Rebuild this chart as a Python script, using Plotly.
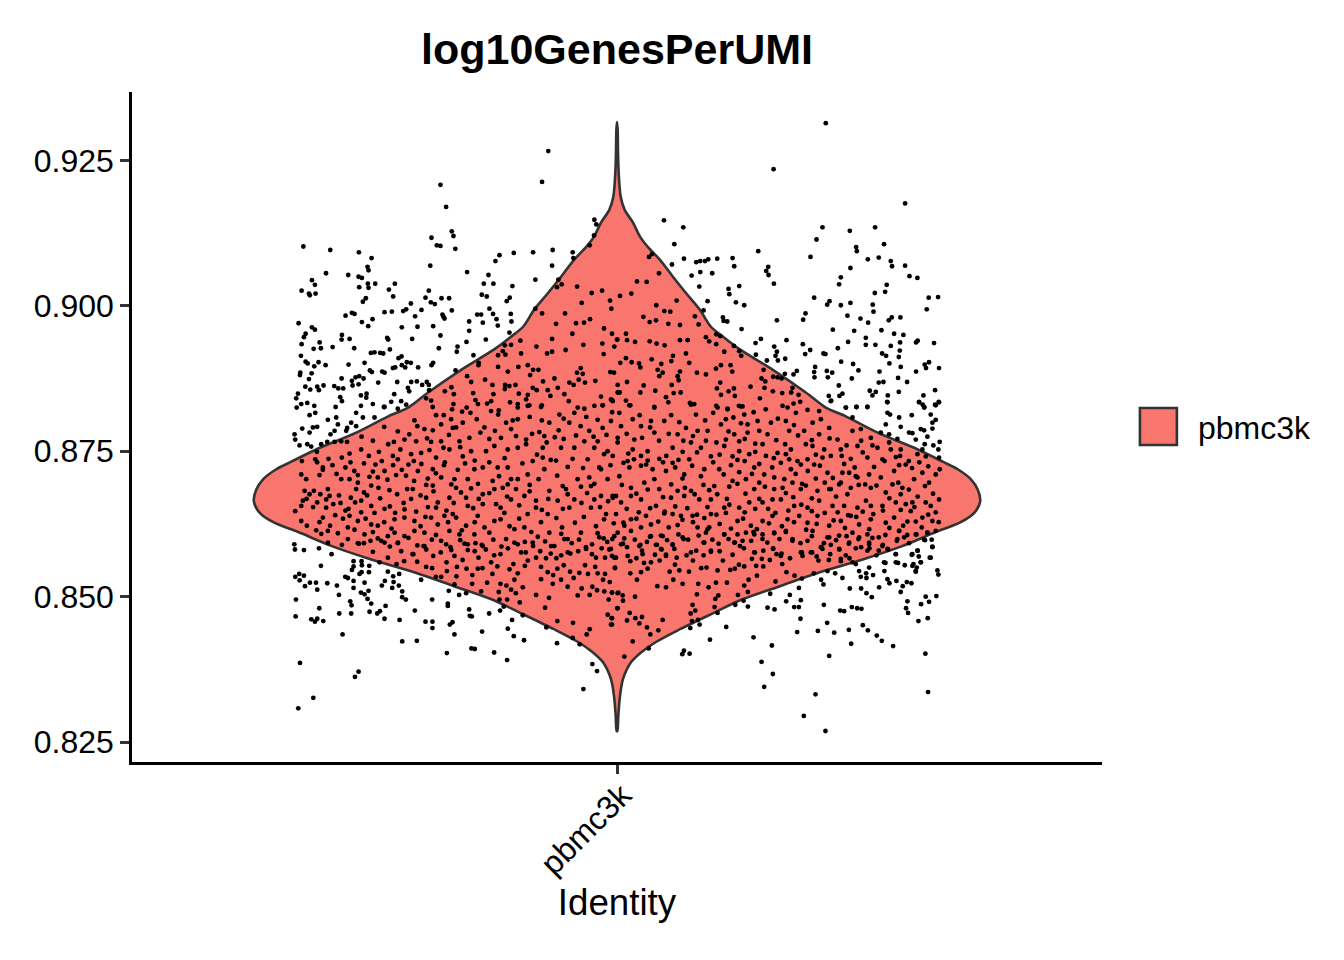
import plotly.graph_objects as go

# Violin outline: log10GenesPerUMI value and half width (density scaled to identity units)
violin_values = [.9316,.9302,.9268,.9234,.9187,.9165,.9143,.9119,.9101,.9079,.9050,.9022,.8993,.8964,.8947,.8925,.8890,.8851,.8825,.8810,.8782,.8753,.8732,.8719,.8702,.8684,.8664,.8645,.8628,.8611,.8586,.8564,.8542,.8518,.8495,.8473,.8444,.8422,.8404,.8387,.8358,.8329,.8295,.8269]
violin_widths = [0,.0008,.0012,.0019,.0046,.0095,.0198,.0284,.0383,.0532,.0692,.0853,.1026,.1162,.1310,.1520,.1928,.2336,.2583,.2831,.3226,.3721,.4030,.4215,.4376,.4462,.4493,.4425,.4252,.3943,.3511,.3041,.2509,.2015,.1545,.1211,.0779,.0482,.0297,.0173,.0074,.0037,.0016,.0004]

# Cells: (jitter offset from identity centre, value)
cells_upper_left = [(-.085,.9266),(-.0927,.9213),(-.2184,.9208),(-.2114,.9170),(-.028,.9148),(-.0256,.9140),(-.2044,.9128),(-.2023,.9120),(-.2295,.9117),(-.2229,.9104),(-.2184,.9103),(-.2,.9098),(-.388,.9102),(-.3547,.9096),(-.3193,.9092),(-.3036,.9082),(-.3086,.9067),(-.3074,.9061),(-.231,.9069),(-.36,.9056),(-.3325,.9053),(-.3197,.9050),(-.3156,.9048),(-.3774,.9044),(-.3737,.9036),(-.3902,.9026),(-.3811,.9021),(-.38,.9018),(-.3729,.9021),(-.3189,.9032),(-.3082,.9038),(-.3074,.9031),(-.2991,.9038),(-.2748,.9038),(-.2822,.9028),(-.2769,.9016),(-.3107,.9013),(-.3144,.9007),(-.2328,.9026),(-.2369,.9014),(-.2303,.9006),(-.2254,.9003),(-.2171,.9013),(-.2077,.9013),(-.255,.9004),(-.2608,.8994),(-.2645,.8991),(-.2785,.8990),(-.2876,.8989),(-.2419,.8993),(-.2497,.8982),(-.3358,.8983),(-.328,.8988),(-.3247,.8986),(-.2044,.8992),(-.2159,.8985),(-.2147,.8981),(-.2134,.8978),(-.3024,.8977),(-.3156,.8972),(-.3078,.8965),(-.3939,.8970),(-.3774,.8963),(-.3737,.8959),(-.2662,.8963),(-.2468,.8964),(-.2274,.8965),(-.3852,.8952),(-.3873,.8946),(-.3403,.8950),(-.3407,.8942),(-.3308,.8943),(-.2843,.8945),(-.2831,.8942),(-.2534,.8943),(-.2184,.8949),(-.3679,.8937),(-.3902,.8934),(-.3753,.8926),(-.3663,.8927),(-.3518,.8929),(-.3251,.8927),(-.2810,.8925),(-.2204,.8927),(-.3045,.8919),(-.3,.8920),(-.2929,.8919),(-.2892,.8918),(-.391,.8914),(-.2703,.8910),(-.2666,.8913),(-.2600,.8903),(-.2550,.8902),(-.3852,.8904),(-.3827,.8901),(-.3692,.8903),(-.3745,.8896),(-.3605,.8898),(-.3321,.8899),(-.3123,.8902),(-.2662,.8898),(-.262,.8894),(-.2773,.8893),(-.2744,.8894),(-.2460,.8894),(-.2274,.8902),(-.2295,.8898),(-.3057,.8889),(-.3032,.8886),(-.2905,.8887),(-.2876,.8885),(-.3918,.8885),(-.3922,.8881),(-.3778,.8884),(-.3189,.8879),(-.3234,.8877),(-.3135,.8875),(-.3407,.8875),(-.328,.8871),(-.3811,.8874),(-.2546,.8869),(-.2476,.8870),(-.2353,.8869),(-.2719,.8869),(-.2954,.8868),(-.2410,.8864),(-.2328,.8864),(-.3271,.8863),(-.3197,.8865),(-.3856,.8861),(-.3708,.8861),(-.3630,.8863),(-.3498,.8862),(-.3448,.8858),(-.3387,.8858),(-.3795,.8856),(-.3688,.8855),(-.2587,.8859),(-.2571,.8853),(-.2324,.8855),(-.3947,.8849),(-.3168,.8846),(-.3098,.8849),(-.2756,.8848),(-.3424,.8843),(-.3968,.8841),(-.3403,.8836),(-.3906,.8831),(-.3832,.8833),(-.3745,.8828),(-.3020,.8831),(-.2793,.8835),(-.2670,.8836),(-.3168,.8828),(-.3102,.8842),(-.3481,.8826),(-.3963,.8825),(-.2884,.8826),(-.2608,.8830),
(-.1504,.9077),(-.1454,.9087),(-.1590,.9053),(-.1648,.9038),(-.1529,.9038),(-.1673,.9019),(-.1611,.9016),(-.1294,.9034),(-.1327,.9014),(-.1364,.9008),(-.1578,.8995),(-.1533,.8986),(-.1491,.8977),(-.1475,.8966),(-.1314,.8986),(-.1306,.8973),(-.1331,.8954),(-.1829,.8973),(-.1660,.8971),(-.1730,.8985),(-.1681,.8985),(-.1854,.9058),(-.1829,.8957),(-.1862,.8938),(-.1623,.8942),(-.1973,.8930),(-.1982,.8921),(-.1776,.8915),
(-.101,.9045),(-.0796,.9096),(-.1038,.9092),(-.1277,.9091),(-.0548,.9092),(-.0803,.9069),(-.054,.9082),(-.0338,.9104),(-.0284,.9121),(-.0725,.9045),(-.0742,.9032),(-.0684,.9037),(-.0494,.9033),(-.0313,.9022),(-.0185,.9026),(-.0086,.9009),(-.0070,.8995),(-.0437,.9005),(-.101,.8995),(-.0927,.8987),(-.0643,.8987),(-.0507,.8970),(-.0408,.8971),(-.0334,.8977),(-.0754,.8969),(-.0161,.8961),(-.0062,.8952),(-.0552,.8952),(-.0803,.8943),(.0004,.8942),(-.0416,.8933),(-.0181,.8935),(-.0033,.8930),(-.0997,.8930),(-.1195,.8940),(-.0635,.8924),(-.0803,.8921),(-.0865,.8918),(-.0165,.8917),(-.1187,.8918),(-.1388,.8932),(-.1310,.8933),(-.1413,.8922),(-.1471,.8915),(-.1380,.8916),(-.1710,.8902),(-.1714,.8898),(-.0449,.8893),(-.0495,.8885),(-.0424,.8883),(-.1471,.8895),(-.1220,.8895),(-.1104,.8898),(-.1038,.8890),(-.0972,.8890),(-.1351,.8887),(-.0082,.8886),(-.0037,.8885),(-.1075,.8881),(-.0774,.8875),(-.0915,.8870),(-.0474,.8873),(-.0396,.8868),(-.0268,.8871),(-.0589,.8868),(-.0536,.8864),(-.1632,.8873),(-.1805,.8869),(-.1854,.8879),(-.1998,.8889),(-.1541,.8864),(-.1384,.8864),(-.1331,.8862),(-.1256,.8864),(-.1042,.8859),(-.0993,.8855),(-.0857,.8855),(-.0733,.8859),(-.0651,.8848),(-.2048,.8860),(-.2019,.8848),(-.2130,.8853),(-.1780,.8850),(-.1529,.8848),(-.1388,.8857),(-.1215,.8849),(-.1104,.8847),(.0008,.8851),(-.0198,.8844),(-.0824,.8845),(-.0074,.8839),(-.0597,.8836),(-.1751,.8838),(-.1557,.8836),(-.1323,.8834),(-.1124,.8839),(-.2299,.8837),(-.2361,.8841),(-.2023,.8831),(-.1228,.8831),(-.1084,.8829),(-.0931,.8829),(-.0177,.8829),(-.0486,.8825),(-.0280,.8828),(-.1607,.8832)]

cells_upper_right = [(.2583,.9314),(.1937,.9235),(.3564,.9176),(.0581,.9147),(.0820,.9135),(.2542,.9135),(.2880,.9129),(.3193,.9135),(.2468,.9114),(.0709,.9106),(.3304,.9106),(.2958,.9101),(.2967,.9094),(.1747,.9094),(.2394,.9084),(.0828,.9081),(.0981,.9075),(.1030,.9077),(.1088,.9077),(.1129,.9080),(.1240,.9081),(.1430,.9082),(.0680,.9071),(.1450,.9068),(.3103,.9080),(.3238,.9083),(.3387,.9077),(.3403,.9068),(.3564,.9069),(.1871,.9067),(.1846,.9060),(.1875,.9053),(.2888,.9065),(.1030,.9058),(.1178,.9056),(.0923,.9052),(.3618,.9051),(.3716,.9048),(.2769,.9049),(.2748,.9037),(.1941,.9038),(.1018,.9033),(.1512,.9034),(.1380,.9029),(.1389,.9020),(.3337,.9036),(.3317,.9024),(.3189,.9022),(.2439,.9014),(.3856,.9014),(.3972,.9015),(.1121,.9008),(.1471,.9006),(.1574,.9001),(.2629,.9008),(.2600,.9002),(.2769,.9001),(.2888,.9005),(.3164,.9002),(.3832,.8994),(.1071,.8992),(.2332,.8987),(.2303,.8976),(.3173,.8990),(.2851,.8983),(.3012,.8978),(.3107,.8971),(.3362,.8975),(.3399,.8980),(.3506,.8980),(.1310,.8980),(.1319,.8974),(.1364,.8973),(.1978,.8975),(.1541,.8960),(.2670,.8959),(.2934,.8957),(.3271,.8958),(.3428,.8952),(.3543,.8950),(.3078,.8945),(.1780,.8943),(.1714,.8936),(.2097,.8941),(.2859,.8938),(.3502,.8937),(.3700,.8937),(.3720,.8940),(.3922,.8936),(.2299,.8934),(.3078,.8933),(.3197,.8933),(.3387,.8931),(.1945,.8930),(.2732,.8927),(.2390,.8924),(.3498,.8923),(.1978,.8921),(.2554,.8918),(.2579,.8917),(.2328,.8917),(.3280,.8918),(.3329,.8914),(.3486,.8912),(.1718,.8916),(.1961,.8914),(.2081,.8909),(.1854,.8906),(.1990,.8906),(.2773,.8904),(.2921,.8900),(.3370,.8901),(.3807,.8899),(.3860,.8903),(.3823,.8893),(.3984,.8893),(.3510,.8895),(.2987,.8889),(.2451,.8895),(.2439,.8886),(.2596,.8888),(.2662,.8885),(.3247,.8887),(.3700,.8887),(.2225,.8888),(.2184,.8882),(.2077,.8883),(.2443,.8877),(.2608,.8877),(.2905,.8875),(.3477,.8876),(.3238,.8868),(.3296,.8869),(.3589,.8869),(.2744,.8863),(.3935,.8855),(.3127,.8854),(.3201,.8852),(.3486,.8852),(.2789,.8849),(.2752,.8845),(.3160,.8846),(.2620,.8845),(.3350,.8846),(.3791,.8846),(.2649,.8837),(.3342,.8835),(.3737,.8835),(.3980,.8835),(.3782,.8830),(.3935,.8830),(.2831,.8825),(.2962,.8826),(.3098,.8826),(.3803,.8825),
(.0433,.9089),(.0396,.9084),(.0519,.9056),(.0247,.9042),(.0367,.9041),(.0177,.9021),(.0037,.9017),(.0738,.9009),(.0486,.9001),(.0585,.8991),(.0659,.8990),(.0326,.8981),(.0404,.8972),(.0482,.8975),(.0635,.8969),(.0779,.8967),(.0964,.8982),(.1010,.8968),(.0111,.8952),(.0124,.8941),(.0000,.8942),(.0223,.8938),(.0404,.8939),(.0589,.8932),(.0490,.8935),(.0779,.8941),(.0874,.8941),(.1100,.8946),(.1141,.8939),(.1228,.8951),(.1277,.8948),(.1228,.8934),(.1327,.8921),(.1446,.8931),(.1512,.8922),(.1537,.8914),(.0853,.8918),(.0692,.8914),(.0672,.8905),(.0429,.8908),(.0111,.8910),(.0041,.8902),(.0181,.8903),(.0272,.8901),(.0289,.8894),(.0548,.8900),(.0503,.8890),(.0565,.8885),(.0523,.8879),(.0894,.8902),(.0779,.8887),(.0989,.8885),(.1100,.8882),(.1224,.8892),(.1286,.8898),(.1405,.8898),(.1426,.8887),(.0750,.8879),(.0762,.8872),(.1813,.8890),(.1932,.8878),(.1986,.8877),(.2036,.8875),(.1788,.8875),(.1834,.8870),(.0676,.8864),(.1277,.8868),(.0330,.8863),(.0124,.8869),(.0008,.8864),(.0474,.8854),(.1236,.8858),(.1380,.8853),(.1446,.8858),(.1652,.8861),(.1825,.8859),(.2171,.8859),(.0289,.8851),(.0033,.8851),(.0701,.8850),(.0787,.8851),(.1928,.8853),(.2044,.8850),(.2155,.8851),(.2246,.8847),(.1286,.8847),(.1458,.8845),(.0606,.8843),(.0635,.8834),(.0111,.8837),(.0165,.8829),(.0462,.8826),(.0902,.8833),(.0956,.8831),(.1228,.8828),(.1508,.8828),(.1553,.8827),(.1768,.8841),(.2048,.8828),(.2184,.8832),(.2266,.8835),(.1368,.8823),(-.0062,.8838)]

cells_lower_left = [(-.3992,.8590),(-.3984,.8581),(-.3873,.8580),(-.3687,.8583),(-.3531,.8573),(-.3663,.8553),(-.3259,.8561),(-.3160,.8561),(-.3156,.8554),(-.3259,.8552),(-.3279,.8546),(-.3065,.8553),(-.3069,.8542),(-.3160,.8542),(-.3185,.8539),(-.3931,.8539),(-.3873,.8536),(-.3980,.8534),(-.3926,.8528),(-.3362,.8534),(-.3329,.8532),(-.2835,.8543),(-.2695,.8539),(-.2769,.8535),(-.3799,.8524),(-.3724,.8524),(-.3584,.8523),(-.3259,.8527),(-.3123,.8524),(-.2872,.8527),(-.2764,.8525),(-.3860,.8518),(-.3465,.8519),(-.3708,.8512),(-.3259,.8515),(-.2909,.8519),(-.2699,.8519),(-.2781,.8515),(-.2423,.8529),(-.3168,.8507),(-.3123,.8504),(-.3074,.8510),(-.2657,.8509),(-.3440,.8503),(-.3972,.8495),(-.3086,.8496),(-.2657,.8499),(-.2612,.8495),(-.2287,.8495),(-.3300,.8492),(-.3284,.8485),(-.3041,.8488),(-.2863,.8484),(-.2093,.8488),(-.2093,.8484),(-.3683,.8480),(-.2501,.8476),(-.1829,.8478),(-.3061,.8474),(-.2933,.8475),(-.2966,.8471),(-.3436,.8471),(-.3288,.8471),(-.3976,.8466),(-.1821,.8467),(-.1796,.8466),(-.1582,.8471),(-.3782,.8461),(-.3708,.8462),(-.3737,.8457),(-.3634,.8458),(-.2876,.8462),(-.2690,.8460),(-.2369,.8457),(-.2283,.8457),(-.2035,.8456),(-.2068,.8452),(-.2283,.8446),(-.1669,.8440),(-.1298,.8460),(-.1351,.8445),(-.1277,.8432),(-.2011,.8435),(-.3395,.8435),(-.1150,.8425),(-.2657,.8423),(-.2476,.8424),(-.0742,.8420),(-.1801,.8411),(-.1759,.8410),(-.2105,.8403),(-.1520,.8404),(-.1360,.8391),(-.3922,.8386),(-.0305,.8384),(-.0247,.8372),(-.3197,.8371),(-.3242,.8362),(-.0416,.8341),(-.3757,.8326),(-.3943,.8308),
(-.0548,.8429),(-.0375,.8435),(-.0338,.8444),(-.0544,.8455),(-.0738,.8458),(-.0461,.8418),(-.0066,.8463),(-.0074,.8452),(-.0115,.8469),(.0004,.8480),(-.0890,.8481),(-.1446,.8476),(-.1401,.8483),(-.1166,.8468),(-.0874,.8447),(-.1454,.8495),(-.1360,.8495),(-.1203,.8490),(-.0841,.8498),(-.0486,.8502),(-.0338,.8503),(-.0103,.8495),(-.1463,.8508),(-.1681,.8509),(-.1866,.8506),(-.1953,.8503),(-.2081,.8510),(-.1792,.8522),(-.2011,.8521),(-.1607,.8524),(-.1001,.8503),(-.1252,.8506),(-.1310,.8512),(-.1368,.8519),(-.1166,.8516),(-.1442,.8522),(-.0437,.8514),(-.0305,.8517),(-.0247,.8511),(-.0157,.8509),(-.0062,.8507),(.0016,.8507),(-.0795,.8522),(-.0692,.8529),(-.0939,.8530),(-.0536,.8532),(-.0173,.8529),(-.1541,.8539),(-.1269,.8529),(-.1986,.8535),(-.2241,.8534),(-.2175,.8534),(-.2105,.8544),(-.1862,.8548),(-.1722,.8548),(-.1664,.8549),(-.2361,.8551),(-.2472,.8560),(-.2633,.8561),(-.2727,.8556),(-.2937,.8559),(-.2109,.8559),(-.2287,.8549),(-.1228,.8540),(-.0857,.8542),(-.0738,.8548),(-.0659,.8554),(-.0581,.8543),(-.0466,.8541),(-.0396,.8554),(-.0359,.8539),(-.0239,.8540),(-.0148,.8539),(-.0025,.8550),(-.1104,.8562),(-.1282,.8556),(-.1557,.8559),(-.0878,.8566),(-.1001,.8567),(-.0750,.8566),(-.0577,.8574),(-.0260,.8567),(-.0148,.8567),(-.0033,.8567),(-.1442,.8573),(-.1714,.8567),(-.1846,.8580),(-.2011,.8570),(-.2274,.8570),(-.2530,.8573),(-.2670,.8578),(-.2835,.8567),(-.3020,.8577),(-.1129,.8576),(-.1186,.8576),(-.1623,.8581),(-.0383,.8582),(-.0095,.8581),(-.1038,.8587),(-.1269,.8593),(-.0775,.8587),(-.0610,.8599),(-.0309,.8590),(-.0165,.8600),(-.1887,.8591),(-.1673,.8589),(-.2114,.8590),(-.2394,.8587),(-.2711,.8593),(-.2917,.8596),(-.3131,.8592),(-.3403,.8589),(-.3193,.8591),(-.3576,.8593)]

cells_lower_right = [(.2579,.8269),(.2311,.8295),(.2456,.8332),(.3848,.8336),(.1821,.8345),(.1928,.8367),(.1788,.8388),(.2625,.8398),(.3815,.8402),(.0808,.8401),(.0828,.8407),(.0898,.8402),(.1916,.8416),(.2897,.8419),(.3416,.8415),(.3276,.8424),(.3214,.8433),(.3103,.8442),(.3041,.8451),(.1150,.8426),(.1689,.8430),(.2229,.8439),(.2485,.8441),(.2687,.8438),(.2868,.8443),(.2600,.8455),(.1351,.8448),(.2270,.8462),(.3729,.8458),(.3844,.8463),(.2761,.8476),(.2810,.8475),(.2905,.8482),(.2971,.8480),(.3024,.8479),(.3576,.8480),(.3601,.8472),(.1862,.8481),(.1949,.8478),(.1619,.8483),(.2192,.8482),(.2250,.8482),(.1463,.8486),(.2559,.8486),(.2093,.8492),(.2274,.8494),(.2138,.8503),(.1566,.8493),(.1895,.8505),(.3593,.8492),(.3762,.8487),(.3860,.8491),(.3819,.8500),(.3951,.8501),(.3152,.8499),(.3086,.8506),(.3510,.8508),(.3535,.8518),(.3243,.8516),(.3020,.8514),(.2880,.8514),(.2250,.8515),(.3370,.8523),(.3346,.8530),(.3457,.8527),(.3585,.8525),(.3642,.8523),(.2554,.8521),(.2525,.8529),(.2789,.8532),(.3086,.8532),(.3016,.8534),(.3964,.8545),(.3976,.8538),(.3308,.8544),(.3168,.8537),(.3082,.8540),(.3119,.8550),(.2995,.8544),(.3696,.8543),(.3708,.8550),(.3560,.8554),(.3667,.8556),(.3758,.8559),(.3321,.8558),(.3477,.8558),(.3869,.8567),(.3733,.8569),(.3720,.8579),(.3646,.8572),(.3902,.8586),(.3449,.8573),(.3893,.8598),(.2699,.8540),
(.0091,.8397),(.0194,.8423),(.0392,.8411),(.0511,.8442),(.0412,.8435),(.0371,.8447),(.0276,.8454),(.0124,.8459),(.0227,.8463),(.0309,.8465),(.0565,.8460),(.0157,.8472),(-.0062,.8463),(.0008,.8480),(-.0062,.8452),(.0074,.8493),(.0223,.8500),(.0070,.8502),(.0008,.8506),(-.0062,.8507),(.0911,.8471),(.0968,.8476),(.0927,.8458),(.1001,.8460),(.1022,.8452),(.0907,.8446),(.1244,.8472),(.1207,.8482),(.1216,.8496),(.1253,.8502),(.0935,.8486),(.0989,.8504),(.0499,.8518),(.0606,.8516),(.0812,.8522),(.1005,.8522),(.1133,.8516),(.1224,.8524),(.1360,.8524),(.1496,.8503),(.1619,.8508),(.1574,.8519),(.1628,.8529),(.1961,.8526),(.1731,.8536),(.2097,.8542),(.2196,.8536),(.2287,.8531),(.2435,.8540),(.0247,.8529),(.0165,.8540),(.0297,.8542),(-.0025,.8549),(.0696,.8529),(.0651,.8543),(.0771,.8545),(.0890,.8543),(.1042,.8549),(.1108,.8550),(.1244,.8545),(.1401,.8546),(.1458,.8548),(.1574,.8552),(.1722,.8553),(.1809,.8552),(.0717,.8555),(.0379,.8548),(.0528,.8562),(.0420,.8559),(.0334,.8558),(.0939,.8562),(.1310,.8562),(.1508,.8555),(.1669,.8565),(.1792,.8565),(.1891,.8563),(.2044,.8556),(.0165,.8561),(.0738,.8567),(-.0012,.8567),(.2604,.8544),(.2769,.8561),(.2876,.8566),(.2954,.8556),(.0606,.8572),(.1071,.8571),(.1162,.8577),(.1706,.8576),(.1974,.8573),(.2036,.8574),(.2287,.8576),(.2414,.8576),(.2493,.8562),(.2637,.8573),(.2752,.8581),(.2954,.8583),(.3123,.8583),(.3238,.8579),(.3354,.8581),(.0124,.8585),(.0309,.8579),(.0552,.8581),(.0074,.8591),(.0289,.8589),(.0494,.8589),(.0688,.8589),(.1071,.8593),(.1257,.8591),(.1458,.8593),(.1932,.8583),(.2171,.8596),(.2357,.8596),(.2530,.8585),(.2645,.8589),(.2868,.8591),(.3119,.8590),(.3288,.8589),(.3461,.8596),(.3613,.8592),(.3799,.8598),(-.0058,.8599),(.0824,.8599),(.1553,.8596),(.1800,.8599),(.2987,.8599),(.3238,.8602),(.3552,.8602),(.0408,.8603),(.0544,.8605),(.1100,.8610),(.1327,.8607),(.1491,.8607),(.1689,.8611),(.1945,.8609),(.2089,.8611),(.2419,.8613),(.2604,.8602),(.2748,.8605),(.2913,.8610),(.3098,.8607),(.3490,.8613),(.3704,.8607),(.3840,.8610)]

cells_middle_left = [(-.3803,.8812),(-.3733,.8816),(-.3577,.8804),(-.3474,.8808),(-.3453,.8796),(-.3227,.8816),(-.3144,.8808),(-.3,.8808),(-.3227,.8793),(-.3288,.8799),(-.3894,.8789),(-.3762,.8791),(-.3709,.8792),(-.3803,.8782),(-.3989,.8779),(-.3981,.8770),(-.3494,.8785),(-.3544,.8779),(-.3350,.8785),(-.3338,.8790),(-.3927,.8760),(-.3832,.8762),(-.3783,.8758),(-.3659,.8762),(-.3585,.8766),(-.3494,.8766),(-.3412,.8767),(-.3713,.8749),(-.2712,.8823),(-.2876,.8826),
(-.3898,.8733),(-.3733,.8736),(-.3569,.8737),(-.3404,.8739),(-.3309,.8746),(-.3165,.8753),(-.3070,.8742),(-.2946,.8749),(-.3297,.8731),(-.2988,.8727),(-.2773,.8742),(-.2712,.8736),(-.2547,.8745),(-.2423,.8747),(-.2514,.8733),(-.2580,.8727),(-.2238,.8739),(-.2147,.8756),(-.2073,.8753),(-.1908,.8741),(-.1805,.8750),(-.1620,.8750),(-.1517,.8759),(-.1352,.8753),(-.1228,.8756),(-.1125,.8762),(-.0919,.8756),(-.0693,.8756),(-.0528,.8756),(-.0281,.8756),(-.0116,.8750),(-.1043,.8733),(-.0919,.8739),(-.0754,.8734),(-.0549,.8737),(-.0363,.8736),(-.0198,.8719),(-.0116,.8702),
(-.2712,.8784),(-.2629,.8770),(-.2485,.8767),(-.2506,.8803),(-.2382,.8788),(-.2279,.8786),(-.2176,.8796),(-.2052,.8805),(-.2032,.8790),(-.2238,.8812),(-.2143,.8812),(-.1916,.8818),(-.1813,.8816),(-.1908,.8799),(-.1735,.8805),(-.1690,.8782),(-.1826,.8773),(-.1949,.8767),(-.2176,.8767),(-.2300,.8766),(-.1558,.8819),(-.1463,.8820),(-.1228,.8825),(-.1105,.8828),(-.0940,.8826),(-.0713,.8813),(-.0528,.8816),(-.0404,.8823),(-.0178,.8829),(-.0054,.8836),(-.1372,.8799),(-.1228,.8805),(-.0961,.8783),(-.0837,.8799),(-.0722,.8786),(-.0590,.8799),(-.0507,.8777),(-.0343,.8785),(-.0178,.8790),(-.0075,.8802),(-.1435,.8773),(-.1249,.8776),(-.1125,.8770),(-.0899,.8776),(-.0404,.8767),(-.0239,.8767),(.0008,.8773),
(-.3906,.8710),(-.3845,.8702),(-.3639,.8722),(-.3680,.8709),(-.3412,.8702),(-.3309,.8702),(-.3206,.8709),(-.3206,.8696),(-.3062,.8706),(-.2959,.8705),(-.2876,.8716),(-.2732,.8709),(-.2662,.8718),(-.2464,.8716),(-.2279,.8719),(-.2176,.8705),(-.2341,.8703),(-.2011,.8702),(-.1846,.8702),(-.1764,.8719),(-.1661,.8722),(-.1476,.8722),(-.1352,.8722),(-.1538,.8699),(-.1311,.8702),(-.1228,.8702),(-.1105,.8710),(-.0899,.8719),(-.0672,.8690),(-.0487,.8702),(-.0343,.8705),(-.0219,.8722),
(-.3865,.8682),(-.3750,.8682),(-.3577,.8685),(-.3227,.8685),(-.3041,.8691),(-.2951,.8687),(-.2815,.8683),(-.2596,.8685),(-.2526,.8685),(-.2279,.8691),(-.1991,.8687),(-.1805,.8686),(-.1517,.8685),(-.1414,.8687),(-.1352,.8693),(-.1249,.8685),(-.0837,.8682),(-.0631,.8685),(-.0446,.8689),(-.0322,.8690),(-.0198,.8673),(-.0054,.8673),
(-.3803,.8676),(-.3556,.8673),(-.3886,.8665),(-.3709,.8662),(-.3598,.8667),(-.3420,.8661),(-.3293,.8670),(-.3091,.8674),(-.3165,.8665),(-.2547,.8668),(-.2361,.8670),(-.2217,.8662),(-.2073,.8670),(-.1867,.8670),(-.1661,.8676),(-.1496,.8659),(-.1311,.8667),(-.1146,.8673),(-.1002,.8665),(-.0734,.8665),(-.0528,.8667),(-.0281,.8667),
(-.3981,.8647),(-.3906,.8656),(-.3598,.8653),(-.3321,.8651),(-.3165,.8645),(-.3,.8644),(-.2876,.8651),(-.2745,.8644),(-.2629,.8650),(-.2485,.8646),(-.2238,.8653),(-.2032,.8642),(-.1846,.8656),(-.1661,.8659),(-.1393,.8644),(-.1105,.8642),(-.1002,.8653),(-.0857,.8642),(-.0590,.8653),(-.0322,.8653),(-.0136,.8642),
(-.3639,.8636),(-.3486,.8640),(-.3309,.8639),(-.3206,.8630),(-.2959,.8622),(-.2752,.8633),(-.2506,.8630),(-.2300,.8636),(-.2135,.8639),(-.1867,.8622),(-.1723,.8639),(-.1517,.8630),(-.1269,.8616),
(-.3906,.8630),(-.3837,.8622),(-.3721,.8614),(-.3659,.8608),(-.3577,.8613),(-.3453,.8609),(-.3247,.8615),(-.3124,.8607),(-.3041,.8624),(-.2959,.8600),(-.2835,.8604),(-.2752,.8610),(-.2629,.8604),(-.2506,.8613),(-.2382,.8610),(-.2217,.8624),(-.2073,.8613),(-.1949,.8607),(-.1764,.8607),(-.1579,.8610),(-.1372,.8599),(-.1146,.8619),(-.1043,.8593),(-.0837,.8610),(-.0652,.8599),(-.0446,.8610),(-.0219,.8602),(-.0034,.8604),
(-.3330,.8599),(-.3206,.8592),(-.2876,.8593),(-.2712,.8592),(-.2382,.8587),(-.2176,.8596),(-.1846,.8590),(-.1661,.8587),(-.1228,.8590),(-.0384,.8585),(-.0075,.8582),(-.0816,.8587),(-.0610,.8576)]

cells_middle_right = [(.2645,.8836),(.2831,.8825),(.2962,.8826),(.3098,.8826),(.3346,.8834),(.3737,.8834),(.3799,.8826),(.3943,.8829),(.3984,.8834),(.3378,.8813),(.3346,.8816),(.3490,.8808),(.3646,.8812),(.3881,.8813),(.2913,.8808),(.3943,.8804),(.3902,.8799),(.3325,.8796),(.3510,.8792),(.3758,.8788),(.3799,.8786),(.3902,.8789),(.3613,.8782),(.3654,.8781),(.3263,.8782),(.3366,.8779),(.3840,.8775),(.3469,.8771),(.3696,.8770),(.3992,.8766),(.3914,.8760),(.3976,.8753),(.3778,.8753),(.3807,.8762),(.3717,.8745),(.3820,.8741),
(.3984,.8739),(.3510,.8753),(.3366,.8765),(.3387,.8753),(.3222,.8756),(.3098,.8739),(.3284,.8736),(.3502,.8742),(.3572,.8727),(.3992,.8719),(.3943,.8710),(.3778,.8713),(.3860,.8696),(.3675,.8702),(.3531,.8687),(.3428,.8716),(.3408,.8693),(.3263,.8705),(.3119,.8710),(.2975,.8705),(.2872,.8713),(.2769,.8696),(.2625,.8685),(.2892,.8687),(.3140,.8687),(.3325,.8679),(.3510,.8676),(.3572,.8659),(.3654,.8662),(.3819,.8662),(.3984,.8667),(.3881,.8656),(.3943,.8645),(.3778,.8636),(.3634,.8647),(.3449,.8662),(.3284,.8656),(.3140,.8656),(.2975,.8653),(.2810,.8656),(.2666,.8656),(.2501,.8665),(.2357,.8653),(.2192,.8656),(.2027,.8667),(.1924,.8667),(.1801,.8662),(.1636,.8662),(.1512,.8653),(.1327,.8653),(.1162,.8667),(.1018,.8667),(.0832,.8673),(.0668,.8670),(.0482,.8656),(.0297,.8667),(.0173,.8673),(.0050,.8662),(-.0053,.8670),
(.3902,.8630),(.3696,.8629),(.3593,.8629),(.3428,.8636),(.3325,.8627),(.3140,.8633),(.2995,.8624),(.2892,.8639),(.2769,.8630),(.2625,.8622),(.2480,.8639),(.2357,.8627),(.2254,.8639),(.2110,.8633),(.1924,.8639),(.1801,.8630),(.1656,.8622),(.1491,.8630),(.1347,.8644),(.1162,.8642),(.0935,.8639),(.0791,.8639),(.0688,.8642),(.0585,.8643),(.0359,.8639),(.0173,.8633),(-.0012,.8642),(.0091,.8622),(.0420,.8624),(.0297,.8619),(.0750,.8623),(.0997,.8619),(.1141,.8619),
(.3943,.8613),(.3840,.8610),(.3696,.8607),(.3490,.8613),(.3469,.8599),(.3284,.8587),(.3119,.8593),(.2995,.8602),(.2872,.8593),(.2748,.8582),(.2625,.8602),(.2522,.8585),(.2398,.8576),(.2274,.8576),(.2171,.8599),(.2089,.8613),(.1945,.8610),(.1801,.8607),(.1698,.8607),(.1595,.8610),(.1450,.8593),(.1327,.8607),(.1121,.8616),(.1080,.8593),(.0812,.8602),(.0565,.8604),(.0420,.8604),(.0173,.8613),(.0008,.8610),(.0276,.8587),(.0482,.8589),(.0688,.8590),(.0050,.8590),(-.0062,.8570),(.0132,.8570),(.0317,.8573),(.0544,.8582),(.0606,.8570),(.0915,.8576),(.1162,.8579),(.1698,.8576),(.1932,.8582),(.2027,.8570),(.2295,.8570),(.2542,.8582),(.2769,.8565),(.2913,.8559),(.3098,.8579),(.3346,.8582),(.3449,.8573),(.3654,.8573),(.3717,.8579),(.3902,.8585),(.3881,.8567),(.3758,.8559),(.3449,.8559),(.3304,.8559),(.3654,.8553),(.3696,.8544),
(.0029,.8816),(.0153,.8829),(.0462,.8825),(.0194,.8805),(.0050,.8793),(.0297,.8793),(.0462,.8782),(.0420,.8802),(.0585,.8802),(.0771,.8800),(.0915,.8830),(.0977,.8813),(.0853,.8790),(.0997,.8785),(.0750,.8779),(.1121,.8785),(.1244,.8825),(.1368,.8822),(.1347,.8805),(.1286,.8796),(.1533,.8827),(.1574,.8813),(.1533,.8798),(.1615,.8796),(.1739,.8802),(.1862,.8779),(.1904,.8799),(.1450,.8779),(.1615,.8782),(.2110,.8825),(.2213,.8816),(.2357,.8821),(.2089,.8802),(.2130,.8785),(.2316,.8785),(.2501,.8819),(.2522,.8805),(.2625,.8790),(.2501,.8779),(.2913,.8785),(.2728,.8770),(.2336,.8762),(.3016,.8788),(.3140,.8773),(.2975,.8759),
(.0008,.8765),(.0194,.8753),(.0379,.8750),(.0214,.8770),(-.0053,.8742),(.0132,.8733),(.0297,.8742),(.0523,.8737),(.0688,.8756),(.0812,.8749),(.0894,.8736),(.0688,.8730),(.0915,.8765),(.1100,.8768),(.1162,.8741),(.1038,.8756),(.1347,.8770),(.1512,.8767),(.1327,.8759),(.1512,.8750),(.1636,.8745),(.1430,.8741),(.1801,.8762),(.1842,.8742),(.1986,.8747),(.2151,.8753),(.2089,.8745),(.2357,.8736),(.2419,.8759),(.2563,.8753),(.2645,.8742),(.2769,.8753),(.2892,.8737),(.2233,.8733),(.2542,.8739),
(.0029,.8707),(.0153,.8722),(.0297,.8725),(.0462,.8702),(.0606,.8716),(.0832,.8710),(.1038,.8707),(.1265,.8719),(.1512,.8714),(.1595,.8702),(.1430,.8699),(.1698,.8722),(.1821,.8710),(.1945,.8705),(.2027,.8730),(.2171,.8696),(.2151,.8719),(.2274,.8727),(.2439,.8727),(.2460,.8703),(.2604,.8713),(.2789,.8713),(.2954,.8707),(.2748,.8693),(.0338,.8696),(.0173,.8687),(-.0012,.8673),(.0523,.8685),(.0750,.8682),(.0915,.8682),(.1141,.8683),(.1203,.8690),(.1389,.8689),(.1698,.8685),(.1760,.8696),(.2048,.8687),(.1945,.8685),(.2336,.8691),(.2274,.8685),(.2480,.8682),(.2645,.8685)]

# Further cells from the crowded body of the violin, estimated cluster by cluster
cells_body_left = [(-.371,.8731),(-.364,.8718),(-.352,.8726),(-.347,.8711),(-.336,.8722),(-.325,.8716),(-.313,.8729),(-.302,.8715),(-.291,.8733),(-.284,.8701),(-.277,.8726),(-.261,.8708),(-.251,.8699),(-.242,.8728),(-.236,.8692),(-.224,.8712),(-.213,.8731),(-.205,.8693),(-.197,.8718),(-.188,.8729),(-.172,.8694),(-.158,.8731),(-.146,.8707),(-.139,.8738),(-.117,.8729),(-.108,.8692),(-.097,.8702),(-.082,.8735),(-.074,.8708),(-.061,.8723),(-.042,.8721),(-.028,.8694),(-.008,.8726),
(-.384,.8668),(-.376,.8654),(-.367,.8676),(-.351,.8659),(-.344,.8674),(-.336,.8648),(-.324,.8662),(-.313,.8679),(-.304,.8656),(-.293,.8669),(-.281,.8655),(-.272,.8676),(-.264,.8661),(-.243,.8674),(-.234,.8654),(-.227,.8681),(-.211,.8648),(-.202,.8661),(-.193,.8679),(-.178,.8652),(-.171,.8668),(-.158,.8678),(-.144,.8653),(-.136,.8672),(-.121,.8657),(-.108,.8681),(-.093,.8649),(-.085,.8668),(-.067,.8651),(-.061,.8676),(-.044,.8661),(-.037,.8678),(-.021,.8654),(-.011,.8664),
(-.368,.8628),(-.355,.8622),(-.339,.8634),(-.333,.8619),(-.311,.8634),(-.302,.8611),(-.288,.8628),(-.279,.8617),(-.263,.8636),(-.243,.8621),(-.237,.8637),(-.224,.8606),(-.209,.8628),(-.199,.8636),(-.192,.8614),(-.176,.8628),(-.164,.8619),(-.144,.8633),(-.133,.8621),(-.121,.8634),(-.106,.8611),(-.094,.8628),(-.075,.8635),(-.068,.8619),(-.052,.8627),(-.041,.8637),(-.026,.8621),(-.016,.8633),(-.004,.8626),
(-.305,.8596),(-.281,.8586),(-.258,.8601),(-.247,.8588),(-.229,.8598),(-.206,.8585),(-.194,.8597),(-.175,.8592),(-.153,.8598),(-.143,.8586),(-.114,.8594),(-.098,.8603),(-.089,.8595),(-.069,.8608),(-.056,.8592),(-.047,.8598),(-.024,.8609),(-.012,.8594),
(-.252,.8573),(-.236,.8581),(-.218,.8576),(-.205,.8580),(-.191,.8563),(-.176,.8578),(-.152,.8571),(-.135,.8583),(-.095,.8578),(-.082,.8574),(-.069,.8571),(-.048,.8578),(-.031,.8573),(-.019,.8583),(-.198,.8551),(-.179,.8537),(-.148,.8552),(-.133,.8547),(-.114,.8553),(-.094,.8551),(-.079,.8537),(-.061,.8517),(-.027,.8551),(-.009,.8525),
(-.334,.8766),(-.316,.8775),(-.302,.8768),(-.288,.8792),(-.276,.8766),(-.257,.8779),(-.247,.8793),(-.235,.8772),(-.208,.8778),(-.199,.8791),(-.164,.8791),(-.158,.8771),(-.151,.8785),(-.131,.8788),(-.105,.8780),(-.087,.8765),(-.077,.8774),(-.066,.8771),(-.045,.8793),(-.029,.8775),(-.013,.8778),
(-.228,.8826),(-.204,.8822),(-.186,.8825),(-.172,.8831),(-.147,.8813),(-.129,.8803),(-.108,.8809),(-.093,.8803),(-.066,.8806),(-.038,.8809),(-.024,.8804),(-.006,.8817),(-.016,.8745),(-.099,.8744),(-.176,.8734),(-.194,.8757),(-.214,.8726),(-.232,.8752),(-.268,.8753),(-.283,.8762)]

cells_body_right = [(.008,.8730),(.021,.8736),(.036,.8727),(.044,.8719),(.057,.8731),(.072,.8722),(.081,.8703),(.093,.8725),(.108,.8719),(.119,.8731),(.132,.8710),(.141,.8726),(.158,.8733),(.167,.8711),(.176,.8728),(.192,.8722),(.207,.8702),(.221,.8711),(.236,.8716),(.251,.8725),(.267,.8704),(.281,.8728),(.294,.8722),(.307,.8693),(.318,.8723),(.331,.8733),(.349,.8726),(.365,.8721),(.374,.8731),(.385,.8724),
(.006,.8692),(.024,.8677),(.038,.8684),(.057,.8671),(.067,.8693),(.084,.8687),(.096,.8676),(.107,.8692),(.124,.8676),(.136,.8668),(.149,.8694),(.159,.8677),(.176,.8668),(.183,.8689),(.209,.8678),(.218,.8671),(.229,.8694),(.241,.8669),(.257,.8696),(.271,.8672),(.285,.8676),(.299,.8692),(.308,.8665),(.321,.8691),(.337,.8669),(.348,.8696),(.361,.8684),(.372,.8672),(.381,.8690),(.391,.8677),
(.012,.8651),(.027,.8645),(.041,.8652),(.059,.8646),(.072,.8655),(.087,.8652),(.099,.8641),(.112,.8654),(.123,.8641),(.139,.8658),(.158,.8645),(.171,.8651),(.187,.8651),(.196,.8644),(.212,.8648),(.228,.8658),(.241,.8647),(.257,.8644),(.273,.8645),(.286,.8640),(.304,.8646),(.317,.8642),(.329,.8648),(.351,.8649),(.368,.8654),(.385,.8641),
(.008,.8627),(.024,.8634),(.051,.8629),(.064,.8619),(.081,.8632),(.094,.8628),(.108,.8635),(.127,.8625),(.141,.8617),(.156,.8634),(.173,.8616),(.188,.8626),(.204,.8621),(.219,.8628),(.234,.8615),(.247,.8625),(.268,.8631),(.282,.8618),(.296,.8637),(.312,.8616),(.337,.8618),(.354,.8622),(.377,.8619),(.398,.8628),
(.009,.8600),(.022,.8598),(.037,.8594),(.062,.8597),(.076,.8607),(.088,.8598),(.101,.8605),(.118,.8598),(.138,.8599),(.152,.8587),(.166,.8596),(.186,.8593),(.201,.8599),(.227,.8592),(.241,.8604),(.256,.8592),(.271,.8597),(.284,.8604),(.302,.8585),(.316,.8601),(.332,.8606),(.359,.8606),(.381,.8597),(.024,.8566),(.047,.8572),(.071,.8582),(.086,.8571),(.098,.8579),(.127,.8578),(.143,.8572),(.157,.8583),(.181,.8579),(.214,.8566),(.247,.8569),(.262,.8563),(.283,.8571),(.321,.8571),
(.012,.8780),(.031,.8773),(.052,.8768),(.064,.8780),(.082,.8768),(.094,.8776),(.123,.8765),(.138,.8784),(.158,.8771),(.171,.8763),(.176,.8785),(.197,.8769),(.208,.8762),(.224,.8777),(.241,.8769),(.263,.8772),(.284,.8760),(.302,.8768),(.028,.8812),(.041,.8791),(.067,.8812),(.109,.8803),(.119,.8816),(.144,.8808),(.169,.8817),(.184,.8822),(.199,.8806),(.219,.8795),(.242,.8799),(.014,.8746),(.038,.8734),(.061,.8742),(.076,.8735),(.099,.8748),(.127,.8744),(.149,.8735),(.171,.8749),(.194,.8738),(.213,.8736),(.246,.8744),(.278,.8742),(.304,.8748),(.316,.8760),(.345,.8740),(.361,.8733)]

y_ticks = [0.825, 0.850, 0.875, 0.900, 0.925]
identity_position = 1
identity_label = "pbmc3k"
fill_colour = "#F8766D"
line_colour = "#333333"

cells = (cells_upper_left + cells_upper_right + cells_lower_left + cells_lower_right
         + cells_middle_left + cells_middle_right + cells_body_left + cells_body_right)
cell_x = [identity_position + c[0] for c in cells]
cell_y = [c[1] for c in cells]

outline_x = [identity_position - w for w in violin_widths] + [identity_position + w for w in reversed(violin_widths)]
outline_y = violin_values + list(reversed(violin_values))

FONT = "Liberation Sans"
fig = go.Figure()
fig.add_trace(go.Scatter(x=outline_x, y=outline_y, mode="lines", fill="toself", fillcolor=fill_colour,
                         line=dict(color=line_colour, width=2.6, shape="spline", smoothing=0.9), hoverinfo="skip", showlegend=False))
fig.add_trace(go.Scatter(x=cell_x, y=cell_y, mode="markers", marker=dict(color="black", size=4.8), hoverinfo="skip", showlegend=False))

fig.update_layout(
    width=1344, height=960, autosize=False, paper_bgcolor="white", plot_bgcolor="white", showlegend=False,
    margin=dict(l=124, r=250, t=84, b=206, pad=0),
    font=dict(family=FONT, color="black", size=32),
    title=dict(text="<b>log10GenesPerUMI</b>", font=dict(family=FONT, size=43, color="black"),
               x=0.5, xref="paper", xanchor="center", y=1 - 40.5 / 960, yref="container", yanchor="middle"),
    xaxis=dict(range=[0.4, 1.6], tickmode="array", tickvals=[identity_position], ticktext=[identity_label], tickangle=-45,
               showgrid=False, zeroline=False, showline=True, linecolor="black", linewidth=2.5,
               ticks="outside", ticklen=9, tickwidth=2.5, tickcolor="#333333", tickfont=dict(size=32, family=FONT, color="black"),
               ticklabelstandoff=-10, ticklabelshift=5,
               title=dict(text="Identity", font=dict(size=36.7, family=FONT, color="black"), standoff=7)),
    yaxis=dict(range=[0.82157, 0.93676], tickmode="array", tickvals=y_ticks, ticktext=[f"{v:.3f}" for v in y_ticks],
               showgrid=False, zeroline=False, showline=True, linecolor="black", linewidth=2.5,
               ticks="outside", ticklen=9, tickwidth=2.5, tickcolor="#333333", tickfont=dict(size=32, family=FONT, color="black")),
    shapes=[dict(type="rect", xref="paper", yref="paper", x0=1.0391, x1=1.0772, y0=0.4732, y1=0.5284,
                 fillcolor=fill_colour, line=dict(color=line_colour, width=2.6))],
    annotations=[dict(text=identity_label, xref="paper", yref="paper", x=1.0968, y=0.4985, xanchor="left", yanchor="middle",
                      showarrow=False, font=dict(size=32, family=FONT, color="black"))],
)
fig.write_html("out.html")
